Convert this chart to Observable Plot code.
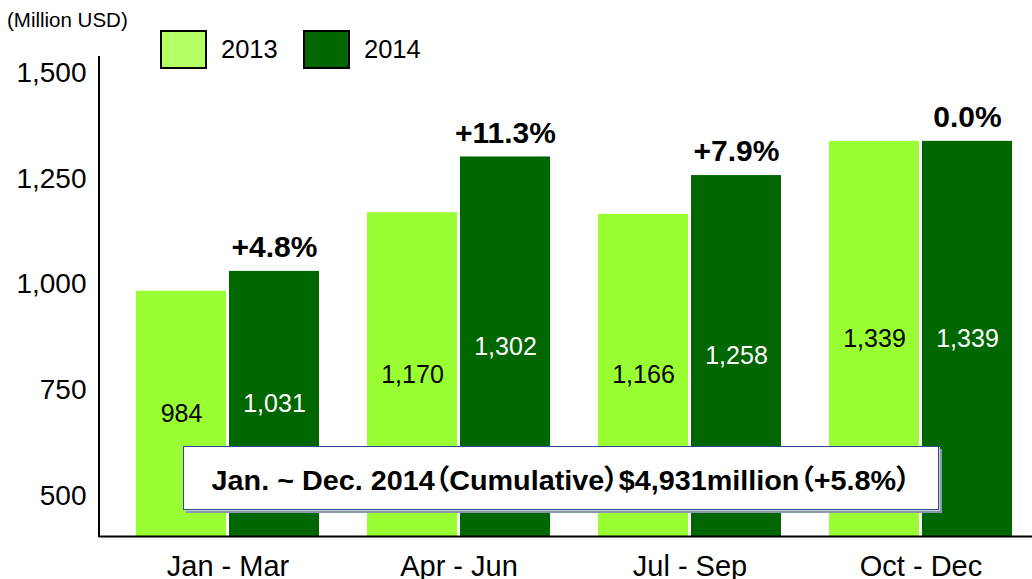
<!DOCTYPE html>
<html>
<head>
<meta charset="utf-8">
<script src="https://cdn.jsdelivr.net/npm/d3@7"></script>
<script src="https://cdn.jsdelivr.net/npm/@observablehq/plot@0.6"></script>
<style>
  html, body { margin: 0; padding: 0; background: white; }
  #wrap { position: relative; width: 1032px; height: 579px; font-family: "Liberation Sans", Arial, sans-serif; overflow: hidden; }
  #unit { position: absolute; left: 7px; top: 8px; font-size: 20.5px; color: #000; }
  .leg { position: absolute; top: 30px; display: flex; align-items: center; font-size: 25.5px; }
  .sw { width: 43px; height: 35px; border: 2px solid #000; margin-right: 14px; }
  #note { position: absolute; left: 183px; top: 446px; width: 754px; height: 62px; background: #fff;
          border: 1px solid #2a4a8a; box-shadow: 1px 1px 0 #c8d0de, 3px 3px 0 #8c97ab; display: flex; align-items: center; justify-content: center; }
  #noteText { font-weight: bold; font-size: 28px; white-space: nowrap; display: inline-block; transform-origin: center;
              font-family: "Liberation Sans", "Noto Sans CJK JP", Arial, sans-serif; font-feature-settings: "palt"; }
</style>
</head>
<body>
<div id="wrap"></div>
<script>
const quarters = ["Jan - Mar", "Apr - Jun", "Jul - Sep", "Oct - Dec"];
const sales2013 = [984, 1170, 1166, 1339];
const sales2014 = [1031, 1302, 1258, 1339];
const growth = ["+4.8%", "+11.3%", "+7.9%", "0.0%"];
const yTicks = [500, 750, 1000, 1250, 1500];
const yDomain = [403, 1540];
const years = ["2013", "2014"];
const colors = ["#99FF33", "#006600"];
const legendColors = ["#B3FF66", "#006600"];
const unitLabel = "(Million USD)";
const noteLabel = "Jan. ~ Dec. 2014（Cumulative）$4,931million（+5.8%）";

const data = quarters.map((q, i) => ({q, a: sales2013[i], b: sales2014[i], p: growth[i]}));
const fmt = d3.format(",");
const half = 46.5;

const leftLine = (index, scales, values, dim) => {
  const g = d3.create("svg:g");
  g.append("line")
    .attr("x1", dim.marginLeft).attr("x2", dim.marginLeft)
    .attr("y1", dim.marginTop).attr("y2", dim.height - dim.marginBottom + 1)
    .attr("stroke", "black").attr("stroke-width", 2);
  return g.node();
};

const chart = Plot.plot({
  width: 1032,
  height: 579,
  marginLeft: 99,
  marginRight: 0,
  marginTop: 56,
  marginBottom: 43,
  style: {fontFamily: "'Liberation Sans', Arial, sans-serif", background: "white", color: "black", overflow: "visible"},
  x: {domain: quarters, paddingInner: 0.2058, paddingOuter: 0.1164, align: 0.648, axis: null},
  y: {domain: yDomain, axis: null},
  marks: [
    Plot.barY(data, {x: "q", y1: d => yDomain[0], y2: "a", fill: colors[0], insetRight: 93}),
    Plot.barY(data, {x: "q", y1: d => yDomain[0], y2: "b", fill: colors[1], insetLeft: 93}),
    Plot.text(data, {x: "q", y: d => (d.a + yDomain[0]) / 2, text: d => fmt(d.a), dx: -half, fill: "black", fontSize: 25}),
    Plot.text(data, {x: "q", y: d => (d.b + yDomain[0]) / 2, text: d => fmt(d.b), dx: half, fill: "white", fontSize: 25}),
    Plot.text(data, {x: "q", y: "b", text: "p", dx: half, dy: -24, fill: "black", fontSize: 30, fontWeight: "bold"}),
    Plot.ruleY([yDomain[0]], {stroke: "black", strokeWidth: 2}),
    leftLine,
    Plot.axisY({ticks: yTicks, tickSize: 0, tickPadding: 13, tickFormat: fmt, fontSize: 28, fill: "black", label: null}),
    Plot.axisX({tickSize: 0, tickPadding: 19, fontSize: 29, fill: "black", label: null})
  ]
});

const wrap = document.getElementById("wrap");
wrap.appendChild(chart);

const unit = document.createElement("div");
unit.id = "unit"; unit.textContent = unitLabel;
wrap.appendChild(unit);

const legLeft = [160, 303];
years.forEach((y, i) => {
  const l = document.createElement("div");
  l.className = "leg";
  l.style.left = legLeft[i] + "px";
  const sw = document.createElement("div");
  sw.className = "sw"; sw.style.background = legendColors[i];
  const t = document.createElement("span"); t.textContent = y;
  l.appendChild(sw); l.appendChild(t);
  wrap.appendChild(l);
});

const note = document.createElement("div");
note.id = "note";
const nt = document.createElement("span");
nt.id = "noteText"; nt.textContent = noteLabel;
note.appendChild(nt);
wrap.appendChild(note);
const w = nt.getBoundingClientRect().width;
nt.style.transform = `scaleX(${699 / w})`;
</script>
</body>
</html>
